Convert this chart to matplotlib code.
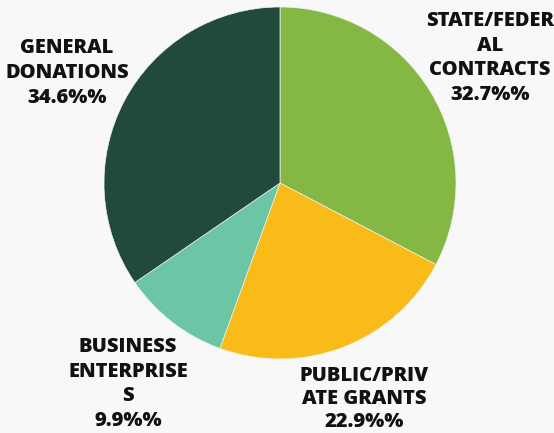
import matplotlib
matplotlib.use("Agg")
import matplotlib.pyplot as plt

categories = ["STATE/FEDER\nAL\nCONTRACTS", "PUBLIC/PRIV\nATE GRANTS", "BUSINESS\nENTERPRISE\nS", "GENERAL\nDONATIONS"]
values = [32.7, 22.9, 9.9, 34.6]
colors = ["#84b743", "#f9bb17", "#6cc5a4", "#224a3c"]
label_pos = [(490, 433 - 58), (364, 433 - 399), (128, 433 - 384), (67, 433 - 73)]
label_spacing = [1.33, 1.22, 1.33, 1.33]

fig = plt.figure(figsize=(5.54, 4.33), dpi=100)
fig.patch.set_facecolor("#f8f8f8")
ax = fig.add_axes([0, 0, 1, 1])
ax.set_facecolor("#f8f8f8")

ax.pie(values, colors=colors, startangle=90, counterclock=False,
       center=(280, 433 - 183), radius=176,
       wedgeprops=dict(edgecolor="#f0f0f0", linewidth=0.5))

for cat, v, (x, y), ls in zip(categories, values, label_pos, label_spacing):
    ax.text(x, y, f"{cat}\n{v:.1f}%%", ha="center", va="center",
            fontsize=14.5, fontweight="heavy", family="Open Sans",
            color="#111111", linespacing=ls)

ax.set_xlim(0, 554)
ax.set_ylim(0, 433)
ax.set_aspect("auto")
ax.axis("off")
fig.savefig("out.png", dpi=100, facecolor=fig.get_facecolor())
